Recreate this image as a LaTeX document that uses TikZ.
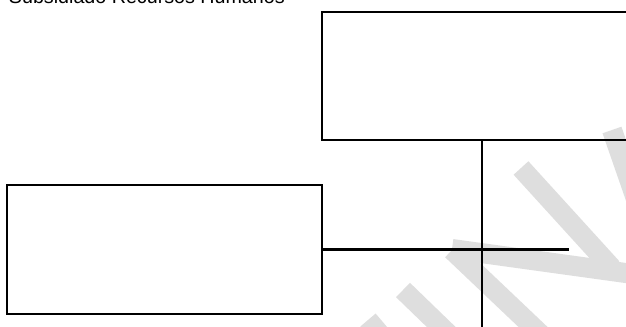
\documentclass[tikz,border=0pt]{standalone}
\usepackage{fontspec}
\setmainfont{Liberation Sans}
\usepackage{xcolor}
\definecolor{markgray}{RGB}{222, 222, 222}

\begin{document}
\begin{tikzpicture}[x=0.025cm, y=-0.025cm,
    box/.style={draw, line width=1.4pt, rectangle, inner sep=0pt},
    link/.style={line width=1.5pt},
    stripe/.style={line width=0.5cm, markgray}]
    \useasboundingbox (0,0) rectangle (626,327);
    \clip (0,0) rectangle (626,327);

    % watermark
    \draw[stripe] (521,168) -- (612,268);
    \draw[stripe] (452,249) -- (640,275);
    \draw[stripe] (452,250) -- (552,345);
    \draw[stripe] (403,290) -- (465,350);
    \draw[stripe] (368,320) -- (385,340);
    \draw[stripe] (612,130) -- (645,225);

    % title, cut at the top
    \node[anchor=base west, font=\fontsize{14}{16}\selectfont] (title) at (4,4) {Subsidiado Recursos Humanos};

    % boxes
    \node[box, minimum width=7.75cm, minimum height=3.2cm] (top) at (477,76) {};
    \node[box, minimum width=7.875cm, minimum height=3.225cm] (left) at (164.5,249.5) {};

    % lines
    \coordinate (vend) at (482,330);
    \coordinate (hend) at (569,249.5);
    \draw[link] (top.south -| vend) -- (vend);
    \draw[link] (left.east) -- (hend);
\end{tikzpicture}
\end{document}
